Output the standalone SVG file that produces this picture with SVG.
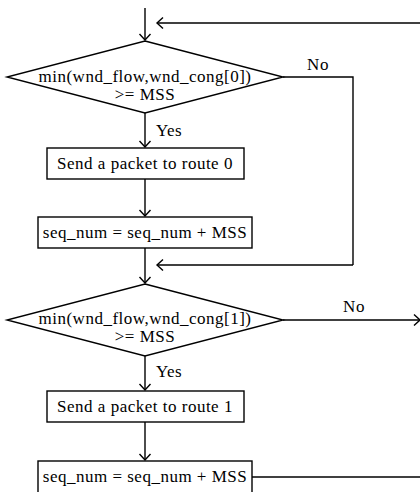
<svg xmlns="http://www.w3.org/2000/svg" width="420" height="492" viewBox="0 0 420 492">
  <style>
    .shape { fill: #ffffff; stroke: #000000; stroke-width: 1.4; }
    .wire { fill: none; stroke: #000000; stroke-width: 1.4; }
    .arrow { fill: none; stroke: #000000; stroke-width: 1.4; marker-end: url(#open-arrow); }
    text { font-family: "Liberation Serif", "Times New Roman", serif; font-size: 17px; letter-spacing: 0.5px; fill: #000000; }
    .mid { text-anchor: middle; }
  </style>
  <defs>
    <marker id="open-arrow" markerUnits="userSpaceOnUse" markerWidth="14" markerHeight="14" viewBox="-8 -7 10 14" refX="0" refY="0" orient="auto" overflow="visible">
      <path d="M-6,-5.5 L0,0 L-6,5.5" fill="none" stroke="#000000" stroke-width="1.4"/>
    </marker>
  </defs>

  <rect width="420" height="492" fill="#ffffff"/>

  <!-- connectors -->
  <g id="connectors">
    <line class="arrow" x1="145" y1="8" x2="145" y2="40"/>
    <line class="arrow" x1="420" y1="23" x2="157" y2="23"/>
    <polyline class="wire" points="283,77 353,77 353,265"/>
    <line class="arrow" x1="353" y1="265" x2="157" y2="265"/>
    <line class="arrow" x1="145" y1="113" x2="145" y2="147"/>
    <line class="arrow" x1="145" y1="179" x2="145" y2="216"/>
    <line class="arrow" x1="145" y1="248" x2="145" y2="283"/>
    <line class="arrow" x1="283" y1="320" x2="420" y2="320"/>
    <line class="arrow" x1="145" y1="356" x2="145" y2="390"/>
    <line class="arrow" x1="145" y1="422" x2="145" y2="460"/>
    <line class="wire" x1="252" y1="477" x2="420" y2="477"/>
    <text class="mid" x="318" y="70">No</text>
    <text class="mid" x="354" y="312">No</text>
    <text x="156" y="136">Yes</text>
    <text x="156" y="377">Yes</text>
  </g>

  <!-- first window check -->
  <g id="check0">
    <polygon class="shape" points="145,41 283,77 145,113 7,77"/>
    <text class="mid" x="145" y="82">min(wnd_flow,wnd_cong[0])</text>
    <text class="mid" x="145" y="100">&gt;= MSS</text>
  </g>

  <g id="send0">
    <rect class="shape" x="47" y="148" width="197" height="31"/>
    <text class="mid" x="145" y="169">Send a packet to route 0</text>
  </g>

  <g id="seq0">
    <rect class="shape" x="38" y="217" width="214" height="31"/>
    <text class="mid" x="145" y="238">seq_num = seq_num + MSS</text>
  </g>

  <!-- second window check -->
  <g id="check1">
    <polygon class="shape" points="145,284 283,320 145,356 7,320"/>
    <text class="mid" x="145" y="324">min(wnd_flow,wnd_cong[1])</text>
    <text class="mid" x="145" y="342">&gt;= MSS</text>
  </g>

  <g id="send1">
    <rect class="shape" x="47" y="391" width="197" height="31"/>
    <text class="mid" x="145" y="412">Send a packet to route 1</text>
  </g>

  <g id="seq1">
    <rect class="shape" x="38" y="461" width="214" height="33"/>
    <text class="mid" x="145" y="482">seq_num = seq_num + MSS</text>
  </g>
</svg>
